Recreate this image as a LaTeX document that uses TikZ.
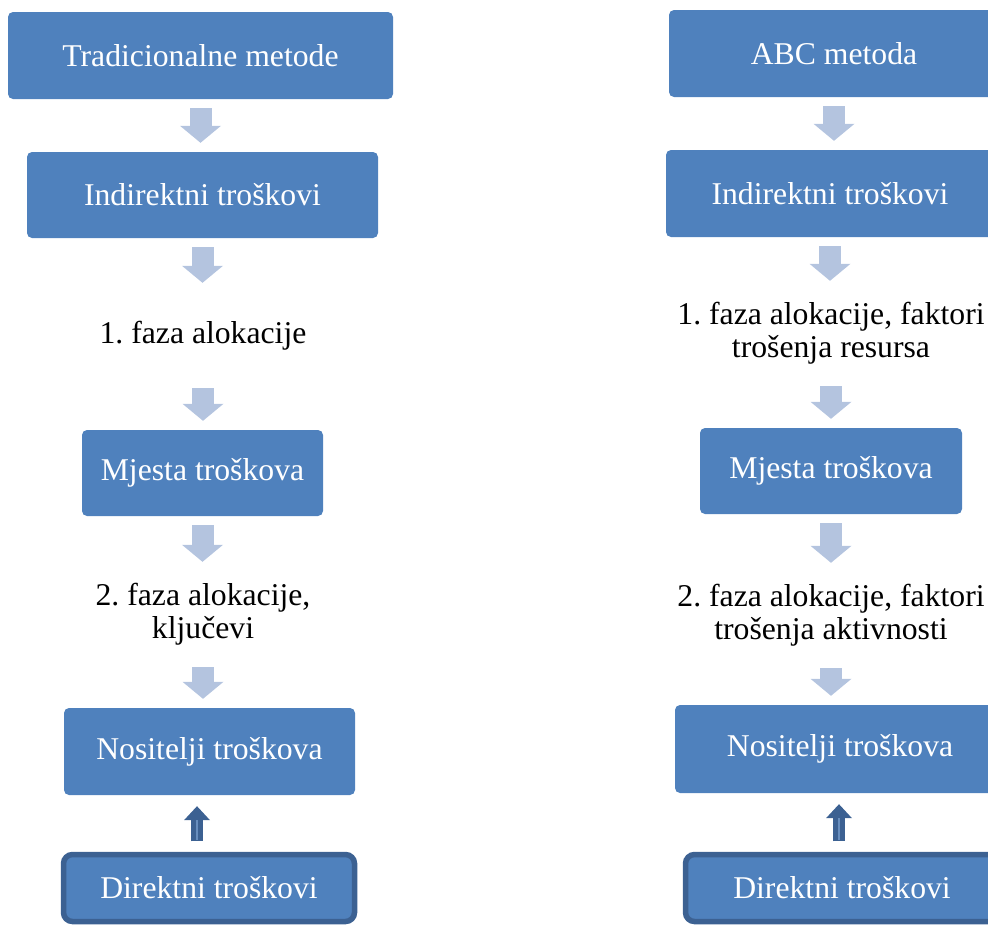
\documentclass[tikz,border=0pt]{standalone}
\usepackage{fontspec}
\setmainfont{Liberation Serif}
\usepackage{tikz}
\usetikzlibrary{arrows.meta}
\definecolor{boxblue}{RGB}{79,129,189}
\definecolor{arrowblue}{RGB}{180,196,223}
\definecolor{edgeblue}{RGB}{60,97,146}
\definecolor{stripeblue}{RGB}{104,142,190}

\begin{document}
\begin{tikzpicture}[x=1pt, y=-1pt, line cap=butt]
          \tikzstyle{every node}=[font=\fontsize{31.7}{33}\selectfont\frenchspacing, inner sep=0pt, minimum height=87pt, align=center]
          \tikzstyle{costbox}=[fill=boxblue, text=white, rounded corners=5pt]
          \tikzstyle{directbox}=[costbox, draw=edgeblue, line width=5.5pt, rounded corners=9pt, minimum height=67pt]
          \tikzstyle{phase}=[text=black]
          \tikzstyle{flow}=[draw=arrowblue, line width=22pt, -{Triangle[width=41pt, length=17pt, line width=0pt]}, shorten <=9pt, shorten >=9pt]
          \tikzstyle{feed}=[draw=edgeblue, line width=12pt, -{Triangle[width=26pt, length=14pt, line width=0pt]}, shorten <=10.5pt, shorten >=11pt,
                            postaction={draw=stripeblue, line width=2pt, -, shorten <=12pt, shorten >=25pt}]
            \useasboundingbox (0,0) rectangle (988,924);

            % tradicionalne metode
            \node[costbox, minimum width=385pt] (tm) at (200.5, 55.5) {Tradicionalne metode};
            \node[costbox, minimum width=351pt, minimum height=86pt] (li) at (202.5, 195) {Indirektni troškovi};
            \node[phase] (lf1) at (203, 335.5) {1. faza alokacije};
            \node[costbox, minimum width=241pt, minimum height=86pt] (lm) at (202.5, 473) {Mjesta troškova};
            \node[phase] (lf2) at (203, 614.5) {2. faza alokacije,\\ključevi};
            \node[costbox, minimum width=291pt] (ln) at (209.5, 751.5) {Nositelji troškova};
            \node[directbox, minimum width=291pt] (ld) at (209, 888) {Direktni troškovi};

            % ABC metoda
            \node[costbox, minimum width=330pt] (ra) at (834, 53.5) {ABC metoda};
            \node[costbox, minimum width=328pt] (ri) at (830, 193.5) {Indirektni troškovi};
            \node[phase] (rf1) at (831, 333.5) {1. faza alokacije, faktori\\trošenja resursa};
            \node[costbox, minimum width=262pt, minimum height=86pt] (rm) at (831, 471) {Mjesta troškova};
            \node[phase] (rf2) at (831, 615.5) {2. faza alokacije, faktori\\trošenja aktivnosti};
            \node[costbox, minimum width=330pt, minimum height=88pt] (rn) at (840, 749) {Nositelji troškova};
            \node[directbox, minimum width=313pt] (rd) at (842, 888) {Direktni troškovi};

            \draw[flow] (tm.south) -- (tm.south |- li.north);
            \draw[flow] (li.south) -- (li.south |- lf1.north);
            \draw[flow] (lf1.south) -- (lf1.south |- lm.north);
            \draw[flow] (lm.south) -- (lm.south |- lf2.north);
            \draw[flow] (lf2.south) -- (lf2.south |- ln.north);
            \draw[feed] ([xshift=-12pt]ld.north) -- ([xshift=-12pt]ld.north |- ln.south);

            \draw[flow] (ra.south) -- (ra.south |- ri.north);
            \draw[flow] (ri.south) -- (ri.south |- rf1.north);
            \draw[flow] (rf1.south) -- (rf1.south |- rm.north);
            \draw[flow] (rm.south) -- (rm.south |- rf2.north);
            \draw[flow] (rf2.south) -- (rf2.south |- rn.north);
            \draw[feed] ([xshift=-3pt]rd.north) -- ([xshift=-3pt]rd.north |- rn.south);
        \end{tikzpicture}
\end{document}
